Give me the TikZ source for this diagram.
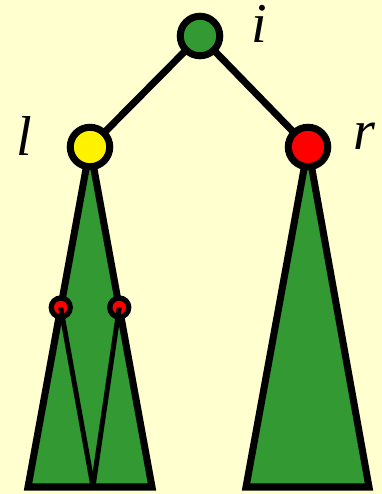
\documentclass[tikz,border=0pt]{standalone}
\usepackage{fontspec}
\setmainfont{Liberation Serif}
\usepackage{tikz}
\usetikzlibrary{positioning}
\definecolor{bgyellow}{HTML}{FFFFD0}
\definecolor{treegreen}{HTML}{339933}

\begin{document}
\begin{tikzpicture}[x=0.02cm, y=-0.02cm,
  vtx/.style={circle, draw, line width=4pt, minimum size=0.79cm, inner sep=0pt},
  small/.style={circle, draw, line width=3pt, fill=red, minimum size=0.38cm, inner sep=0pt},
  edge/.style={line width=4pt},
  subtree/.style={draw, fill=treegreen, line width=4pt, line join=miter},
  inner/.style={line width=2.8pt},
  lbl/.style={font=\fontsize{32}{34}\selectfont\itshape}
]
\fill[bgyellow] (0,0) rectangle (382,494);
\useasboundingbox (0,0) rectangle (382,494);

% base corners of the two subtrees
\coordinate (lbl) at (28,487);
\coordinate (lbr) at (152,487);
\coordinate (lmid) at (93,487);
\coordinate (rbl) at (246,487);
\coordinate (rbr) at (369,487);
\coordinate (lc) at (90,147);
\coordinate (rc) at (308,147);

\draw[edge] (200,36) -- (lc);
\draw[edge] (200,36) -- (rc);

\path[subtree] (lc) -- (lbl) -- (lbr) -- cycle;
\path[subtree] (rc) -- (rbl) -- (rbr) -- cycle;

\path (lc) -- (lbl) coordinate[pos=0.472] (ll);
\path (lc) -- (lbr) coordinate[pos=0.472] (lr);
\node[small] (sl) at (ll) {};
\node[small] (sr) at (lr) {};
\draw[inner] (sl.center) -- (lmid);
\draw[inner] (sr.center) -- (lmid);

\node[vtx, fill=treegreen] (i) at (200,36) {};
\node[vtx, fill=yellow] (l) at (lc) {};
\node[vtx, fill=red] (r) at (rc) {};

\node[lbl] (ti) at (259,24) {i};
\node[lbl] (tl) at (24,136) {l};
\node[lbl] (tr) at (364,136) {r};
\end{tikzpicture}
\end{document}
